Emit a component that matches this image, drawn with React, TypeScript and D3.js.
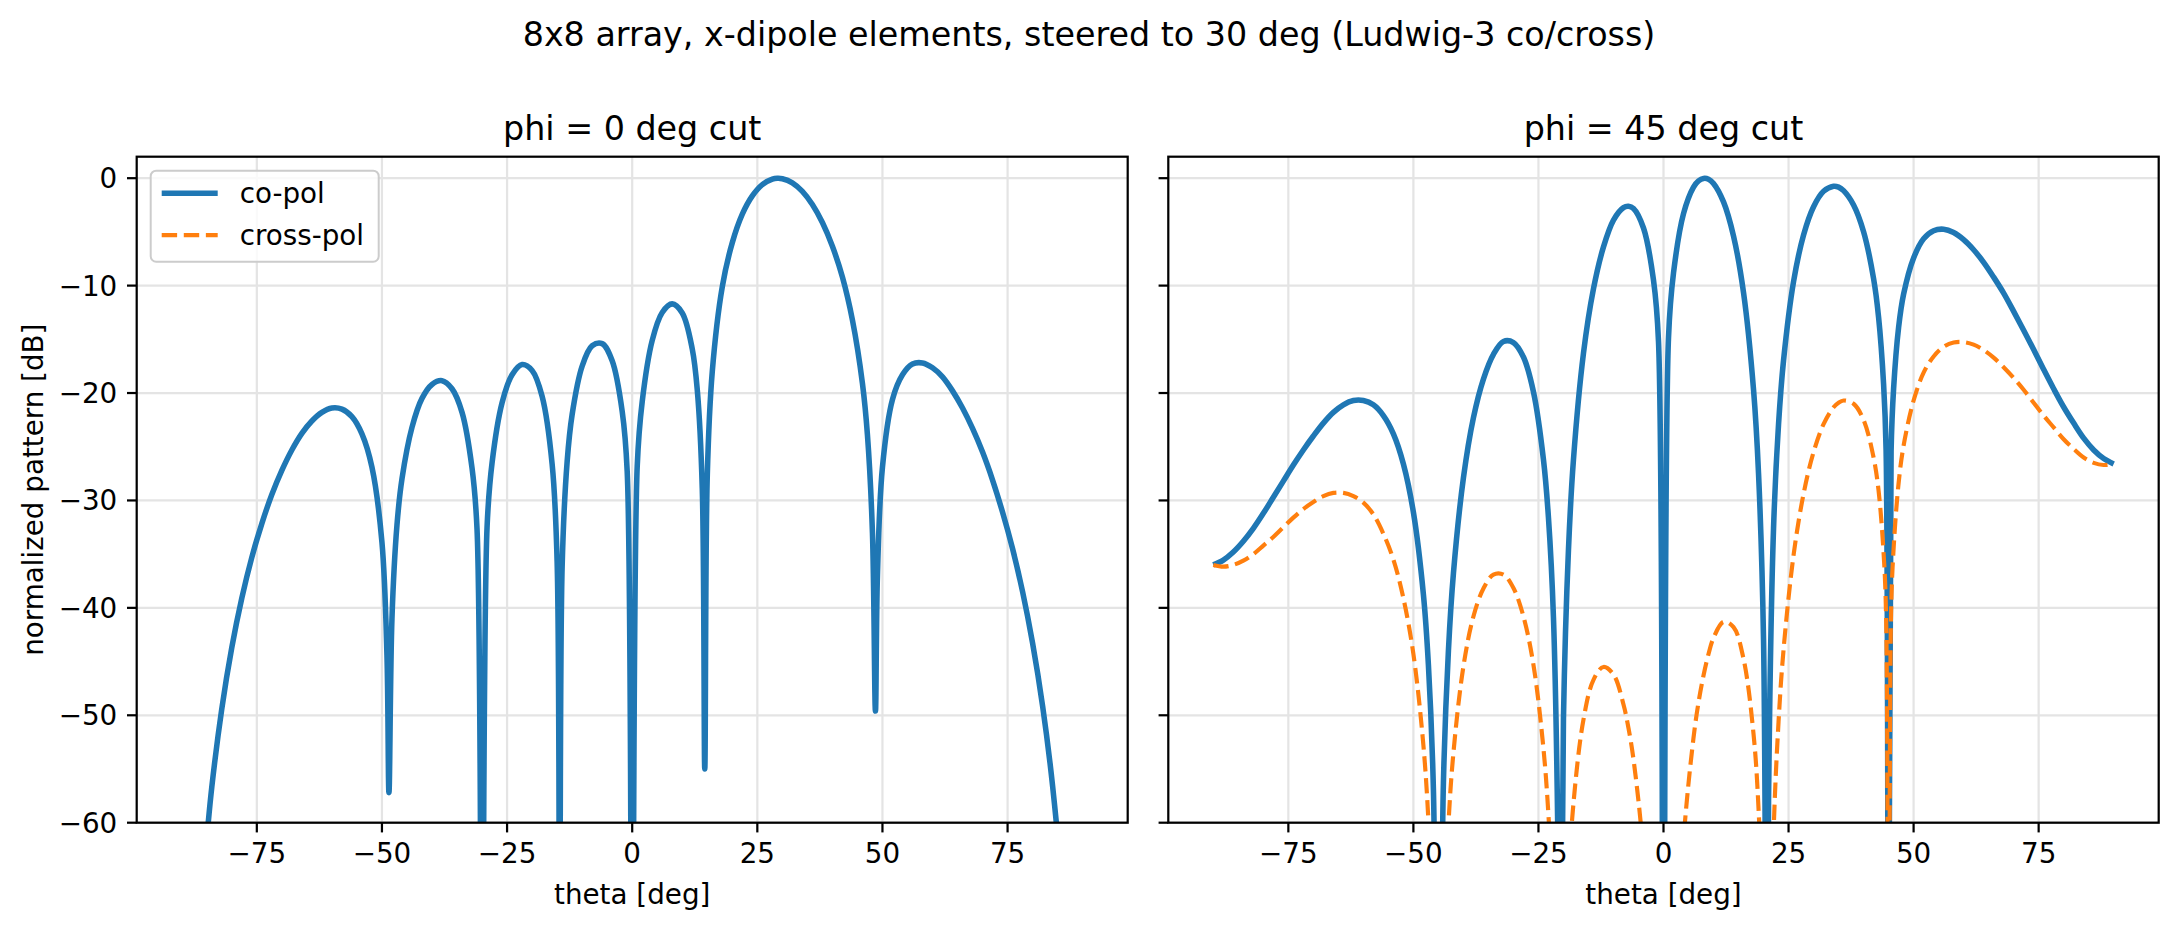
import * as d3 from "d3";

// phi = 0 deg cut: co-pol only (cross-pol is zero in this plane)
const thetaL = [
  -88, -86, -85, -84, -82, -80, -78, -76, -74, -72, -70, -68, -66, -64, -62, -60, -58, -56, -54, -52,
  -50, -49, -48.6, -48, -47, -46, -44, -42, -40, -38, -36, -34, -32, -31, -30, -29, -28, -26, -24, -22,
  -20, -18, -16, -15, -14.5, -14, -13, -12, -10, -8, -6, -4, -2, -1, 0, 1, 2, 4, 6, 8,
  10, 12, 13, 14, 14.5, 15, 16, 18, 20, 22, 24, 26, 28, 29, 30, 32, 34, 36, 38, 40,
  42, 44, 46, 47, 48, 48.6, 49, 50, 52, 54, 56, 58, 60, 62, 64, 66, 68, 70, 72, 74,
  76, 78, 80, 82, 84, 86, 88,
];
const coL = [
  -85, -67, -61.5, -56.7, -49.4, -43.7, -39.1, -35.3, -32.15, -29.45, -27.2, -25.3, -23.75, -22.6, -21.8, -21.4, -21.5, -22.2, -23.8, -26.9,
  -33.9, -44.4, -57.2, -41.0, -32.3, -28.0, -23.2, -20.5, -19.2, -18.85, -19.6, -21.8, -27.0, -32.7, -80, -32.5, -26.5, -20.9, -18.3, -17.35,
  -17.9, -20.3, -26.6, -35.7, -80, -36.2, -26.4, -22.0, -17.5, -15.6, -15.4, -17.0, -21.7, -27.3, -80, -26.85, -20.8, -15.1, -12.5, -11.7,
  -12.55, -15.9, -19.7, -28.9, -55, -27.7, -18.0, -10.1, -6.0, -3.35, -1.65, -0.6, -0.09, -0.01, -0.05, -0.43, -1.23, -2.45, -4.13, -6.34,
  -9.2, -13.2, -19.1, -23.9, -33.0, -49.6, -36.9, -26.9, -20.6, -18.3, -17.3, -17.2, -17.65, -18.5, -19.8, -21.4, -23.3, -25.5, -28.1, -31.1,
  -34.5, -38.5, -43.3, -49.15, -56.6, -67, -85,
];

// phi = 45 deg cut: co-pol and cross-pol
const thetaR = [
  -90, -88, -86, -84, -82, -80, -78, -76, -74, -72, -70, -68, -66, -64, -62, -60, -58, -56, -54, -52,
  -50, -48, -47, -46, -45, -44, -43, -42, -40, -38, -36, -34, -32, -30, -28, -26, -24, -23, -22, -21,
  -20.7, -20, -19, -18, -16, -14, -12, -10, -8, -7, -6, -4, -2, -1, 0, 1, 2, 4, 6, 7,
  8, 9, 10, 12, 14, 16, 18, 19, 20, 20.7, 21, 22, 23, 24, 26, 28, 30, 32, 34, 35,
  36, 38, 40, 42, 43, 44, 44.5, 45, 45.5, 46, 47, 48, 50, 52, 54, 56, 58, 60, 62, 64,
  66, 68, 70, 72, 74, 76, 78, 80, 82, 84, 86, 88, 90,
];
const coR = [
  -36.0, -35.55, -34.8, -33.8, -32.6, -31.2, -29.7, -28.2, -26.7, -25.3, -24.0, -22.8, -21.8, -21.1, -20.7, -20.7, -21.1, -22.1, -23.8, -26.6,
  -31.1, -38.75, -45.3, -56.9, -100, -56.3, -44.0, -36.8, -27.9, -22.3, -18.7, -16.4, -15.2, -15.3, -16.65, -19.9, -26.2, -31.6, -40.9, -65.9,
  -100, -50.3, -34.6, -26.2, -16.3, -10.3, -6.4, -3.9, -2.74, -2.62, -2.82, -4.64, -9.5, -15.2, -100, -14.84, -8.83, -3.3, -0.83, -0.25,
  -0.02, -0.09, -0.49, -2.21, -5.39, -10.65, -19.7, -27.5, -43.0, -100, -58.0, -32.6, -22.9, -16.96, -9.63, -5.29, -2.66, -1.22, -0.75, -0.83,
  -1.16, -2.49, -4.98, -9.35, -12.94, -19.17, -25.3, -100, -25.4, -19.6, -13.9, -10.8, -7.43, -5.64, -4.89, -4.75, -5.06, -5.72, -6.66, -7.83,
  -9.21, -10.7, -12.4, -14.15, -15.95, -17.8, -19.6, -21.3, -22.8, -24.2, -25.3, -26.1, -26.6,
];
const crossR = [
  -36.0, -36.16, -36.0, -35.6, -35.0, -34.2, -33.4, -32.5, -31.6, -30.8, -30.15, -29.6, -29.3, -29.3, -29.6, -30.2, -31.3, -33.1, -35.5, -39.1,
  -44.3, -52.8, -59.8, -71.8, -110, -72.0, -60.2, -53.5, -45.45, -40.8, -38.2, -36.9, -36.9, -38.15, -40.8, -45.3, -53.1, -59.3, -69.3, -95,
  -110, -80, -65.6, -58.2, -50.4, -46.7, -45.5, -46.2, -49.0, -51.2, -54.1, -62.9, -79.8, -97, -110, -97, -79.1, -61.6, -52.1, -48.8,
  -46.3, -44.3, -42.8, -41.3, -41.8, -44.75, -51.75, -58.7, -73, -110, -87.4, -61.1, -50.6, -43.9, -35.1, -29.4, -25.5, -22.9, -21.33, -20.9,
  -20.7, -21.0, -22.5, -26.0, -29.1, -34.9, -40.8, -110, -40.5, -34.5, -28.4, -24.9, -20.7, -18.1, -16.6, -15.7, -15.3, -15.26, -15.5, -16.0,
  -16.7, -17.6, -18.6, -19.7, -20.9, -22.1, -23.2, -24.3, -25.2, -26.0, -26.5, -26.7, -26.6,
];

const xTicks = [-75, -50, -25, 0, 25, 50, 75];
const yTicks = [0, -10, -20, -30, -40, -50, -60];

const W = 2178;
const H = 929;
const PT = 200 / 72;
const TOP = 156.7;
const BOTTOM = 822.7;
const FONT = "DejaVu Sans, sans-serif";
const BLUE = "#1f77b4";
const ORANGE = "#ff7f0e";

const fmt = (v: number) => (v < 0 ? "\u2212" + Math.abs(v) : String(v));

type Series = { th: number[]; vals: number[]; color: string; dashed?: boolean };

const Panel = ({
  x0,
  x1,
  title,
  series,
  yLabels,
  legend,
  id,
}: {
  x0: number;
  x1: number;
  title: string;
  series: Series[];
  yLabels: boolean;
  legend: boolean;
  id: string;
}) => {
  const x = d3.scaleLinear().domain([-99, 99]).range([x0, x1]);
  const y = d3.scaleLinear().domain([-60, 2]).range([BOTTOM, TOP]);
  const line = d3
    .line<[number, number]>()
    .x((d) => x(d[0]))
    .y((d) => y(d[1]))
    .curve(d3.curveCatmullRom.alpha(0.5));
  const tickLen = 3.5 * PT;
  const pad = 3.5 * PT;
  const cx = (x0 + x1) / 2;

  return (
    <g>
      <defs>
        <clipPath id={id}>
          <rect x={x0} y={TOP} width={x1 - x0} height={BOTTOM - TOP} />
        </clipPath>
      </defs>
      <rect x={x0} y={TOP} width={x1 - x0} height={BOTTOM - TOP} fill="#fff" />
      {xTicks.map((t) => (
        <line key={"gx" + t} x1={x(t)} x2={x(t)} y1={TOP} y2={BOTTOM} stroke="#e4e4e4" strokeWidth={0.8 * PT} />
      ))}
      {yTicks.map((t) => (
        <line key={"gy" + t} x1={x0} x2={x1} y1={y(t)} y2={y(t)} stroke="#e4e4e4" strokeWidth={0.8 * PT} />
      ))}
      <g clipPath={`url(#${id})`}>
        {series.map((s, i) => (
          <path
            key={i}
            d={line(s.th.map((t, k) => [t, s.vals[k]] as [number, number])) || ""}
            fill="none"
            stroke={s.color}
            strokeWidth={s.dashed ? 1.5 * PT : 2 * PT}
            strokeDasharray={s.dashed ? `${3.7 * 1.5 * PT},${1.6 * 1.5 * PT}` : undefined}
            strokeLinejoin="round"
          />
        ))}
      </g>
      <rect x={x0} y={TOP} width={x1 - x0} height={BOTTOM - TOP} fill="none" stroke="#000" strokeWidth={0.8 * PT} />
      {xTicks.map((t) => (
        <g key={"tx" + t}>
          <line x1={x(t)} x2={x(t)} y1={BOTTOM} y2={BOTTOM + tickLen} stroke="#000" strokeWidth={0.8 * PT} />
          <text x={x(t)} y={BOTTOM + tickLen + pad + 21} textAnchor="middle" fontSize={10 * PT} fontFamily={FONT}>
            {fmt(t)}
          </text>
        </g>
      ))}
      {yTicks.map((t) => (
        <g key={"ty" + t}>
          <line x1={x0 - tickLen} x2={x0} y1={y(t)} y2={y(t)} stroke="#000" strokeWidth={0.8 * PT} />
          {yLabels && (
            <text x={x0 - tickLen - pad} y={y(t) + 10} textAnchor="end" fontSize={10 * PT} fontFamily={FONT}>
              {fmt(t)}
            </text>
          )}
        </g>
      ))}
      <text x={cx} y={TOP - 6 * PT} textAnchor="middle" fontSize={12 * PT} fontFamily={FONT}>
        {title}
      </text>
      <text x={cx} y={904} textAnchor="middle" fontSize={10 * PT} fontFamily={FONT}>
        theta [deg]
      </text>
      {yLabels && (
        <text
          transform={`translate(43,${(TOP + BOTTOM) / 2}) rotate(-90)`}
          textAnchor="middle"
          fontSize={10 * PT}
          fontFamily={FONT}
        >
          normalized pattern [dB]
        </text>
      )}
      {legend && (
        <g>
          <rect
            x={x0 + 14}
            y={TOP + 14}
            width={228}
            height={91}
            rx={5.5}
            fill="#fff"
            fillOpacity={0.8}
            stroke="#cccccc"
            strokeWidth={2}
          />
          <line x1={x0 + 25} x2={x0 + 81} y1={TOP + 36.5} y2={TOP + 36.5} stroke={BLUE} strokeWidth={2 * PT} />
          <text x={x0 + 103} y={TOP + 46} fontSize={10 * PT} fontFamily={FONT}>
            co-pol
          </text>
          <line
            x1={x0 + 25}
            x2={x0 + 81}
            y1={TOP + 78.5}
            y2={TOP + 78.5}
            stroke={ORANGE}
            strokeWidth={1.5 * PT}
            strokeDasharray={`${3.7 * 1.5 * PT},${1.6 * 1.5 * PT}`}
          />
          <text x={x0 + 103} y={TOP + 88} fontSize={10 * PT} fontFamily={FONT}>
            cross-pol
          </text>
        </g>
      )}
    </g>
  );
};

export default function App() {
  return (
    <svg
      width={W}
      height={H}
      viewBox={`0 0 ${W} ${H}`}
      style={{ position: "absolute", left: 0, top: 0, background: "#fff" }}
    >
      <rect width={W} height={H} fill="#fff" />
      <text x={1089} y={46} textAnchor="middle" fontSize={12 * PT} fontFamily={FONT}>
        8x8 array, x-dipole elements, steered to 30 deg (Ludwig-3 co/cross)
      </text>
      <Panel
        x0={136.7}
        x1={1127.7}
        title="phi = 0 deg cut"
        series={[{ th: thetaL, vals: coL, color: BLUE }]}
        yLabels={true}
        legend={true}
        id="clipL"
      />
      <Panel
        x0={1168.3}
        x1={2158.7}
        title="phi = 45 deg cut"
        series={[
          { th: thetaR, vals: coR, color: BLUE },
          { th: thetaR, vals: crossR, color: ORANGE, dashed: true },
        ]}
        yLabels={false}
        legend={false}
        id="clipR"
      />
    </svg>
  );
}
